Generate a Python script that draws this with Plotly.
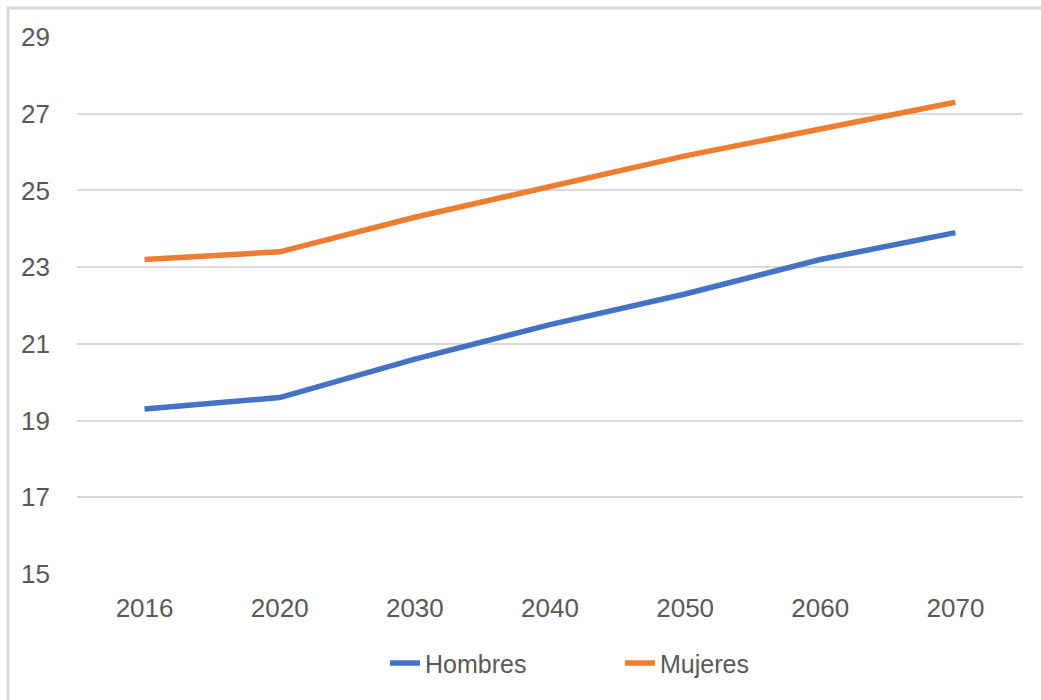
import plotly.graph_objects as go

years = ["2016", "2020", "2030", "2040", "2050", "2060", "2070"]
hombres = [19.3, 19.6, 20.6, 21.5, 22.3, 23.2, 23.9]
mujeres = [23.2, 23.4, 24.3, 25.1, 25.9, 26.6, 27.3]
y_ticks = [15, 17, 19, 21, 23, 25, 27, 29]

FONT = "Liberation Sans, Arial, sans-serif"
TEXT = "#595959"
GRID = "#d9d9d9"

fig = go.Figure()
fig.add_trace(go.Scatter(x=years, y=hombres, name="Hombres", mode="lines",
                         line=dict(color="#4472C4", width=5.5)))
fig.add_trace(go.Scatter(x=years, y=mujeres, name="Mujeres", mode="lines",
                         line=dict(color="#ED7D31", width=5.5)))

fig.update_layout(
    width=1041, height=700,
    margin=dict(l=77, r=18, t=37, b=126),
    paper_bgcolor="white", plot_bgcolor="white",
    font=dict(family=FONT, size=26, color=TEXT),
    showlegend=True,
    legend=dict(orientation="h", x=0.3256, xanchor="left", y=-0.166, yanchor="middle",
                font=dict(family=FONT, size=25, color=TEXT), itemwidth=30,
                entrywidth=190, entrywidthmode="pixels",
                traceorder="normal", bgcolor="rgba(0,0,0,0)"),
    xaxis=dict(type="category", range=[-0.5, 6.5], showgrid=False, zeroline=False,
               showline=False, ticks="", ticklabelstandoff=16,
               tickfont=dict(size=26, color=TEXT)),
    yaxis=dict(range=[15, 29], tickvals=y_ticks, showgrid=True, gridcolor=GRID,
               gridwidth=2, zeroline=False, showline=False, ticks="",
               ticklabelstandoff=26, tickfont=dict(size=26, color=TEXT)),
    shapes=[dict(type="rect", xref="paper", yref="paper",
                 x0=-0.0729, x1=1.2, y0=-0.5, y1=1.054,
                 line=dict(color=GRID, width=3), fillcolor="rgba(0,0,0,0)", layer="below")],
)

fig.write_html("out.html")
